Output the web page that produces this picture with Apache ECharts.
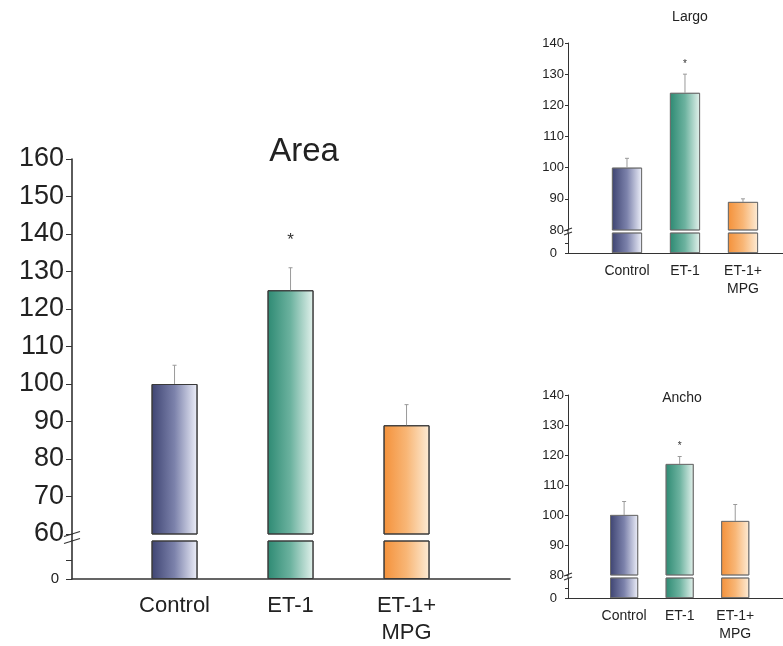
<!DOCTYPE html>
<html>
<head>
<meta charset="utf-8">
<script src="https://cdn.jsdelivr.net/npm/echarts@6/dist/echarts.min.js"></script>
<style>
  html, body { margin: 0; padding: 0; background: #fff; }
  #chart { width: 783px; height: 646px; }
</style>
</head>
<body>
<div id="chart"></div>
<script>
// Group names and measured values (% of control), with error bar sizes
const categories = ['Control', 'ET-1', 'ET-1+\nMPG'];
const areaMeans = [100, 125, 89];
const areaErrors = [5, 6, 5.5];
const largoMeans = [100, 124, 89];
const largoErrors = [3, 6, 1];
const anchoMeans = [100, 117, 98];
const anchoErrors = [4.5, 2.5, 5.5];
const significant = [false, true, false];

// Tick labels above and below the axis break
const areaTicks = [60, 70, 80, 90, 100, 110, 120, 130, 140, 150, 160];
const insetTicks = [80, 90, 100, 110, 120, 130, 140];
const baseTicks = [0];

const FONT = '"Liberation Sans", Arial, Helvetica, sans-serif';
const TEXT = '#222';
const AXIS = '#333';

// Horizontal shading of each group's bar: dark edge -> pale edge
const fills = [
  ['#3e4472', '#7c82ab', '#eef0fa'],
  ['#2e8a73', '#6cb29f', '#e4f2ed'],
  ['#f4913a', '#f8b676', '#fdecd6']
];
function shade(stops) {
  return new echarts.graphic.LinearGradient(0, 0, 1, 0, [
    { offset: 0, color: stops[0] },
    { offset: 0.5, color: stops[1] },
    { offset: 1, color: stops[2] }
  ]);
}

// Layout of the three panels: each has an upper plot (above the break)
// and a short lower plot (below the break)
const panels = [
  {
    title: 'Area', means: areaMeans, errors: areaErrors, ticks: areaTicks, cut: 60,
    upper: { left: 72, top: 159, width: 438, height: 375 },
    lower: { left: 72, top: 541, width: 438, height: 39 },
    xMin: -0.884, xMax: 2.892, barWidth: 46,
    yFont: 27, baseFont: 15, xFont: 22, xLine: 27, xMargin: 13,
    titleFont: 33, titleX: 304, titleY: 152,
    starFont: 17, starGap: 27, axisWidth: 1.6, tickLen: 6, labelMargin: 8, baseMargin: 13,
    border: '#3a3a3a', borderWidth: 1,
    slashHalf: 8, slashRise: 5, slashGap: 3.5
  },
  {
    title: 'Largo', means: largoMeans, errors: largoErrors, ticks: insetTicks, cut: 80,
    upper: { left: 568, top: 43, width: 215, height: 187 },
    lower: { left: 568, top: 233, width: 215, height: 20 },
    xMin: -1.017, xMax: 2.69, barWidth: 30,
    yFont: 13, baseFont: 13, xFont: 14, xLine: 18, xMargin: 9,
    titleFont: 14, titleX: 690, titleY: 17,
    starFont: 10, starGap: 10, axisWidth: 1, tickLen: 3, labelMargin: 4, baseMargin: 11,
    border: '#6a6a6a', borderWidth: 0.8,
    slashHalf: 4, slashRise: 3, slashGap: 2
  },
  {
    title: 'Ancho', means: anchoMeans, errors: anchoErrors, ticks: insetTicks, cut: 80,
    upper: { left: 568, top: 395, width: 215, height: 180 },
    lower: { left: 568, top: 578, width: 215, height: 20 },
    xMin: -1.01, xMax: 2.86, barWidth: 28,
    yFont: 13, baseFont: 13, xFont: 14, xLine: 18, xMargin: 9,
    titleFont: 14, titleX: 682, titleY: 398,
    starFont: 10, starGap: 10, axisWidth: 1, tickLen: 3, labelMargin: 4, baseMargin: 11,
    border: '#6a6a6a', borderWidth: 0.8,
    slashHalf: 4, slashRise: 3, slashGap: 2
  }
];

const grid = [], xAxis = [], yAxis = [], series = [];

panels.forEach((p, i) => {
  const up = 2 * i, lo = 2 * i + 1;
  grid.push(Object.assign({ containLabel: false }, p.upper));
  grid.push(Object.assign({ containLabel: false }, p.lower));

  // Upper plot: hidden x axis, broken y axis from the cut value upward
  xAxis.push({ gridIndex: up, type: 'value', min: p.xMin, max: p.xMax, show: false });
  yAxis.push({
    gridIndex: up, type: 'value', min: p.cut, max: p.ticks[p.ticks.length - 1], interval: 10,
    axisLine: { show: true, onZero: false, lineStyle: { color: AXIS, width: p.axisWidth } },
    axisTick: { show: true, length: p.tickLen, customValues: p.ticks, lineStyle: { color: AXIS, width: 1 } },
    axisLabel: { customValues: p.ticks, fontFamily: FONT, fontSize: p.yFont, color: TEXT, margin: p.labelMargin },
    splitLine: { show: false }
  });

  // Lower plot: baseline with category names, y axis 0..cut
  xAxis.push({
    gridIndex: lo, type: 'value', min: p.xMin, max: p.xMax,
    axisLine: { show: true, onZero: false, lineStyle: { color: AXIS, width: p.axisWidth } },
    axisTick: { show: false },
    splitLine: { show: false },
    axisLabel: {
      customValues: categories.map((c, k) => k),
      formatter: v => categories[Math.round(v)],
      fontFamily: FONT, fontSize: p.xFont, lineHeight: p.xLine, color: TEXT, margin: p.xMargin
    }
  });
  yAxis.push({
    gridIndex: lo, type: 'value', min: 0, max: p.cut, interval: p.cut / 2,
    axisLine: { show: true, onZero: false, lineStyle: { color: AXIS, width: p.axisWidth } },
    axisTick: { show: true, length: p.tickLen, customValues: [0, p.cut / 2], lineStyle: { color: AXIS, width: 1 } },
    axisLabel: { customValues: baseTicks, fontFamily: FONT, fontSize: p.baseFont, color: TEXT, margin: p.baseMargin },
    splitLine: { show: false }
  });

  const barData = p.means.map((v, k) => ({ value: [k, v], itemStyle: { color: shade(fills[k]) } }));
  const barStyle = { borderColor: p.border, borderWidth: p.borderWidth };
  [up, lo].forEach(g => {
    series.push({
      type: 'bar', xAxisIndex: g, yAxisIndex: g, barWidth: p.barWidth,
      data: barData, itemStyle: barStyle, clip: true, silent: true
    });
  });

  // Error bars (upper side only) and significance marks
  series.push({
    type: 'custom', xAxisIndex: up, yAxisIndex: up, silent: true, clip: false, z: 5,
    data: p.means.map((v, k) => [k, v, p.errors[k], significant[k] ? 1 : 0]),
    renderItem: (params, api) => {
      const x = api.value(0), v = api.value(1), e = api.value(2);
      const a = api.coord([x, v]);
      const b = api.coord([x, v + e]);
      const children = [
        { type: 'line', shape: { x1: a[0], y1: a[1], x2: b[0], y2: b[1] }, style: { stroke: '#9a9a9a', lineWidth: 1 } },
        { type: 'line', shape: { x1: b[0] - 2, y1: b[1], x2: b[0] + 2, y2: b[1] }, style: { stroke: '#9a9a9a', lineWidth: 1 } }
      ];
      if (api.value(3)) {
        children.push({
          type: 'text',
          style: {
            text: '*', x: b[0], y: b[1] - p.starGap, align: 'center', verticalAlign: 'middle',
            font: p.starFont + 'px ' + FONT, fill: '#333'
          }
        });
      }
      return { type: 'group', children };
    }
  });
});

const chart = echarts.init(document.getElementById('chart'), null, { renderer: 'canvas' });
chart.setOption({
  animation: false,
  backgroundColor: '#ffffff',
  grid, xAxis, yAxis, series
});

// Panel titles and axis break marks
const graphic = [];
panels.forEach((p, i) => {
  graphic.push({
    type: 'text', silent: true,
    style: {
      text: p.title, x: p.titleX, y: p.titleY, align: 'center', verticalAlign: 'middle',
      font: p.titleFont + 'px ' + FONT, fill: TEXT
    }
  });
  const top = chart.convertToPixel({ xAxisIndex: 2 * i, yAxisIndex: 2 * i }, [p.xMin, p.cut]);
  const bot = chart.convertToPixel({ xAxisIndex: 2 * i + 1, yAxisIndex: 2 * i + 1 }, [p.xMin, p.cut]);
  const ax = top[0], mid = (top[1] + bot[1]) / 2;
  graphic.push({
    type: 'line', silent: true,
    shape: { x1: ax, y1: top[1], x2: ax, y2: bot[1] },
    style: { stroke: AXIS, lineWidth: p.axisWidth }
  });
  [-p.slashGap, p.slashGap].forEach(d => {
    graphic.push({
      type: 'line', silent: true,
      shape: { x1: ax - p.slashHalf, y1: mid + d + p.slashRise / 2, x2: ax + p.slashHalf, y2: mid + d - p.slashRise / 2 },
      style: { stroke: AXIS, lineWidth: 1.2 }
    });
  });
});
chart.setOption({ graphic });
</script>
</body>
</html>
